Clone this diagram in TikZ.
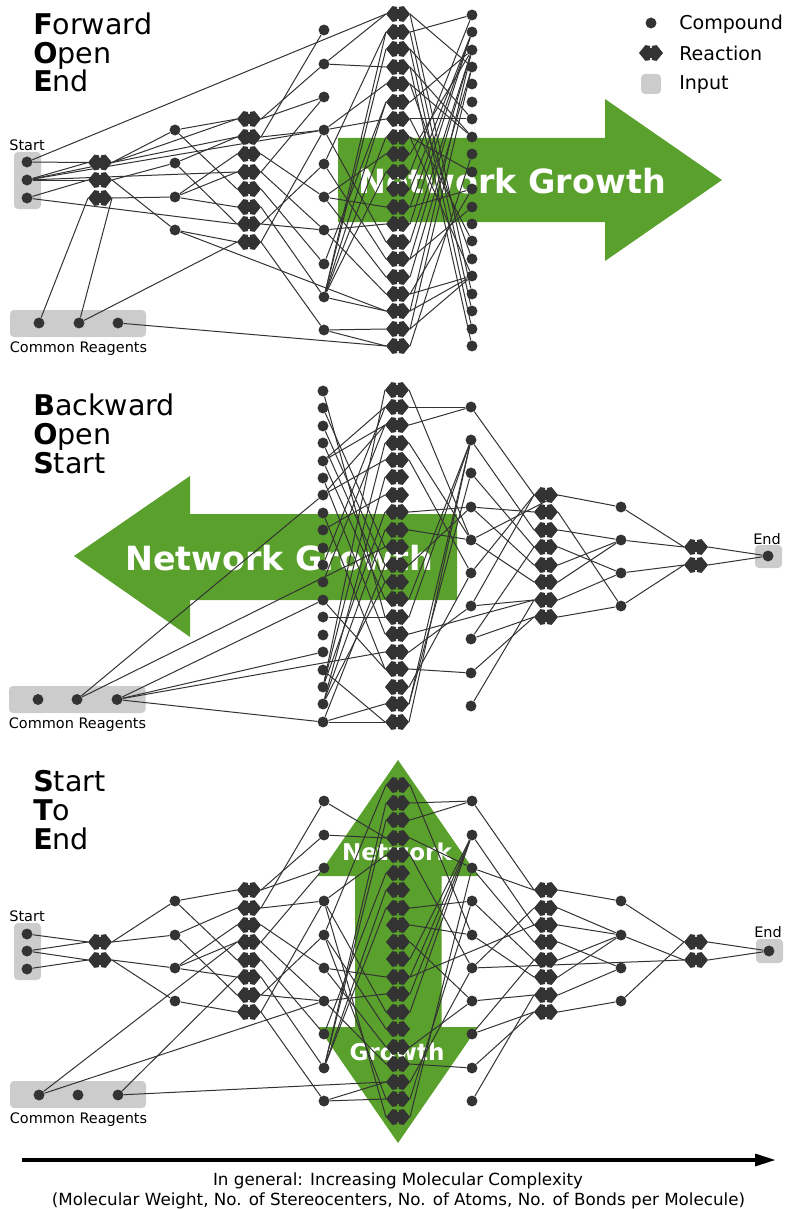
\documentclass[tikz,border=0pt]{standalone}
\usepackage{fontspec}
\setmainfont{DejaVu Sans}
\definecolor{ink}{HTML}{333333}
\definecolor{grow}{HTML}{5AA02C}
\definecolor{inbox}{HTML}{CCCCCC}
\pgfdeclarelayer{bg}
\pgfdeclarelayer{wires}
\pgfsetlayers{bg,wires,main}
\pgfdeclareshape{rxn}{
  \inheritsavedanchors[from=rectangle]
  \inheritanchorborder[from=rectangle]
  \inheritanchor[from=rectangle]{center}
  \inheritanchor[from=rectangle]{text}
  \inheritanchor[from=rectangle]{east}
  \inheritanchor[from=rectangle]{west}
  \inheritanchor[from=rectangle]{north}
  \inheritanchor[from=rectangle]{south}
  \backgroundpath{
    \pgfpathmoveto{\pgfqpoint{-9pt}{0pt}}
    \pgfpathlineto{\pgfqpoint{-4.2pt}{5.9pt}}
    \pgfpathlineto{\pgfqpoint{-0.6pt}{5.3pt}}
    \pgfpathlineto{\pgfqpoint{-0.6pt}{3.7pt}}
    \pgfpathlineto{\pgfqpoint{0.6pt}{3.7pt}}
    \pgfpathlineto{\pgfqpoint{0.6pt}{5.3pt}}
    \pgfpathlineto{\pgfqpoint{4.2pt}{5.9pt}}
    \pgfpathlineto{\pgfqpoint{9pt}{0pt}}
    \pgfpathlineto{\pgfqpoint{4.2pt}{-5.9pt}}
    \pgfpathlineto{\pgfqpoint{0.6pt}{-5.3pt}}
    \pgfpathlineto{\pgfqpoint{0.6pt}{-3.7pt}}
    \pgfpathlineto{\pgfqpoint{-0.6pt}{-3.7pt}}
    \pgfpathlineto{\pgfqpoint{-0.6pt}{-5.3pt}}
    \pgfpathlineto{\pgfqpoint{-4.2pt}{-5.9pt}}
    \pgfpathclose
  }
}
\tikzset{
  cpd/.style={circle,fill=ink,inner sep=0pt,minimum size=8.2pt},
  rea/.style={rxn,fill=ink,inner sep=0pt,minimum width=17.6pt,minimum height=11.8pt},
  wire/.style={draw=ink,line width=0.75pt},
  inputbox/.style={fill=inbox,rounded corners=3pt},
  growarrow/.style={fill=grow},
  growlabel/.style={text=white,font=\bfseries\fontsize{25}{25}\selectfont},
  growsmall/.style={text=white,font=\bfseries\fontsize{17.3}{17.3}\selectfont},
  titletxt/.style={anchor=base west,font=\fontsize{21.4}{21.4}\selectfont,inner sep=0pt},
  smalltxt/.style={font=\fontsize{10.85}{10.85}\selectfont,inner sep=0pt},
  legendtxt/.style={anchor=west,font=\fontsize{14.3}{14.3}\selectfont,inner sep=0pt},
  notetxt/.style={font=\fontsize{12.55}{12.55}\selectfont,inner sep=0pt},
}
\newcommand{\colC}[3]{\foreach \n/\y in {#3} \node[cpd] (#1\n) at (#2,\y) {};}
\newcommand{\colR}[3]{\foreach \n/\y in {#3} \node[rea] (#1\n) at (#2,\y) {};}
% compound -> reaction (west tip)
\newcommand{\wireIn}[2]{\foreach \f/\t in {#2} \draw[wire] (#1\f) -- (#1\t.west);}
% reaction (east tip) -> compound
\newcommand{\wireOut}[2]{\foreach \f/\t in {#2} \draw[wire] (#1\f.east) -- (#1\t);}
% anything else
\newcommand{\wireRaw}[2]{\foreach \f/\t in {#2} \draw[wire] (#1\f) -- (#1\t);}
\begin{document}
\begin{tikzpicture}[x=0.75pt,y=-0.75pt]
\useasboundingbox (0,0) rectangle (786,1209);
\begin{pgfonlayer}{bg}
% growth arrows
\fill[growarrow] (338,138)--(605,138)--(605,99)--(722,180)--(605,261)--(605,222)--(338,222)--cycle;
\fill[growarrow] (457,514)--(190,514)--(190,476)--(74,556)--(190,637)--(190,600)--(457,600)--cycle;
\fill[growarrow] (398,760)--(478,876)--(441.5,876)--(441.5,1027)--(478,1027)--(398,1143)--(318,1027)--(355,1027)--(355,876)--(318,876)--cycle;
\node[growlabel] (glA) at (512,181) {Network Growth};
\node[growlabel] (glB) at (279,558) {Network Growth};
\node[growsmall] (glC) at (397,852) {Network};
\node[growsmall] (glD) at (397,1052) {Growth};
% input boxes
\fill[inputbox] (14,152) rectangle (41,209);
\fill[inputbox] (10,310) rectangle (146,337);
\fill[inputbox] (9,686) rectangle (145.5,713);
\fill[inputbox] (755,545) rectangle (782,568);
\fill[inputbox] (14,923) rectangle (41,980);
\fill[inputbox] (10,1081) rectangle (146,1108);
\fill[inputbox] (756,939) rectangle (783,963);
\fill[inputbox] (641,74) rectangle (661,94);
\end{pgfonlayer}
% titles
\node[titletxt] (tA1) at (33,35) {\textbf{F}orward};
\node[titletxt] (tA2) at (33,63.5) {\textbf{O}pen};
\node[titletxt] (tA3) at (33,92) {\textbf{E}nd};
\node[titletxt] (tB1) at (33,415) {\textbf{B}ackward};
\node[titletxt] (tB2) at (33,444) {\textbf{O}pen};
\node[titletxt] (tB3) at (33,473) {\textbf{S}tart};
\node[titletxt] (tC1) at (33,791) {\textbf{S}tart};
\node[titletxt] (tC2) at (33,820) {\textbf{T}o};
\node[titletxt] (tC3) at (33,849) {\textbf{E}nd};
% small labels
\node[smalltxt] (lA1) at (27,145) {Start};
\node[smalltxt] (lA2) at (78.5,348.5) {Common Reagents};
\node[smalltxt] (lB1) at (767,539) {End};
\node[smalltxt] (lB2) at (77.5,724.5) {Common Reagents};
\node[smalltxt] (lC1) at (27,916) {Start};
\node[smalltxt] (lC2) at (78.5,1119.5) {Common Reagents};
\node[smalltxt] (lC3) at (768,932) {End};
% legend
\node[cpd] (legc) at (651,23) {};
\node[rea] (legr) at (651,53) {};
\node[legendtxt] (legt1) at (679,24) {Compound};
\node[legendtxt] (legt2) at (679,53) {Reaction};
\node[legendtxt] (legt3) at (679,85) {Input};
% bottom axis
\coordinate (axL) at (22,1160);
\coordinate (axM) at (757,1160);
\fill[black] (775,1160)--(755,1153.5)--(755,1166.5)--cycle;
\draw[black,line width=2.6pt] (axL) -- (axM);
\node[notetxt] (nt1) at (398,1181) {In general: Increasing Molecular Complexity};
\node[notetxt] (nt2) at (398.5,1201) {(Molecular Weight, No. of Stereocenters, No. of Atoms, No. of Bonds per Molecule)};
% ================= PANEL A: Forward Open End
\colC{As}{27}{1/162,2/180,3/198}
\colC{Am}{39}{1/323}\colC{Am}{79}{2/323}\colC{Am}{118}{3/323}
\colR{Ar1}{100}{a/162.5,b/180,c/198}
\colC{Ac2}{175}{a/130,b/163,c/197,d/230}
\colR{Ar2}{249}{a/119,b/137,c/154,d/172,e/189,f/207,g/224,h/242}
\colC{Ac3}{324}{a/30,b/64,c/97,d/130,e/164,f/197,g/230,h/264,i/297,j/330}
\colR{Ar3}{398}{a/14,b/32,c/49,d/67,e/84,f/102,g/119,h/137,i/154,j/172,k/189,l/207,m/224,n/242,o/259,p/277,q/294,r/311,s/329,t/346}
\colC{Ac4}{472}{a/15,b/32,c/50,d/67,e/84,f/102,g/119,h/137,i/154,j/172,k/189,l/207,m/224,n/241,o/259,p/276,q/294,r/311,s/329,t/346}
\begin{pgfonlayer}{wires}
\wireIn{A}{s1/r1a,s2/r1a,s2/r1b,s3/r1b,s1/r3a,s2/r2b,s2/r2d,s3/r2g,m1/r1c,m2/r2h,m3/r3t}
\wireRaw{A}{s2/c3d,m2/r1c.east}
\wireOut{A}{r1a/c2a,r1b/c2b,r1b/c2d,r1c/c2c}
\wireRaw{A}{r1a.east/r2a.west}
\wireIn{A}{c2a/r2a,c2a/r2e,c2b/r2b,c2b/r2g,c2c/r2c,c2c/r2d,c2c/r2f,c2d/r2h,c2d/r3r}
\wireOut{A}{r2a/c3b,r2a/c3c,r2b/c3a,r2b/c3d,r2c/c3f,r2d/c3c,r2d/c3g,r2e/c3h,r2f/c3i,r2g/c3e,r2g/c3g,r2h/c3d,r2h/c3j}
\wireIn{A}{c3b/r3a,c3b/r3d,c3d/r3e,c3d/r3g,c3d/r3n,c3e/r3b,c3e/r3o,c3f/r3i,c3f/r3l,c3f/r3p,c3g/r3m,c3g/r3q,c3h/r3f,c3i/r3b,c3i/r3c,c3i/r3f,c3i/r3h,c3i/r3j,c3i/r3r,c3j/r3s,c3j/r3t}
\wireOut{A}{r3a/c4d,r3a/c4q,r3b/c4a,r3b/c4r,r3c/c4g,r3c/c4s,r3d/c4h,r3d/c4t,r3e/c4h,r3e/c4o,r3f/c4c,r3g/c4g,r3g/c4n,r3h/c4j,r3h/c4p,r3i/c4c,r3j/c4a,r3k/c4b,r3l/c4b,r3l/c4k,r3m/c4b,r3n/c4c,r3o/c4c,r3o/c4l,r3p/c4d,r3q/c4p,r3q/c4k,r3r/c4p,r3r/c4c,r3s/c4p,r3s/c4d,r3t/c4i}
\end{pgfonlayer}
% ================= PANEL B: Backward Open Start
\colC{Bm}{38}{1/699.5}\colC{Bm}{77}{2/699.5}\colC{Bm}{117}{3/699.5}
\colC{Bc3}{323}{a/391,b/408,c/426,d/443,e/461,f/478,g/495,h/513,i/530,j/548,k/565,l/582,m/600,n/617,o/635,p/652,q/670,r/687,s/704,t/722}
\colR{Br3}{397}{a/390,b/407,c/425,d/443,e/460,f/477,g/495,h/512,i/530,j/547,k/565,l/582,m/599,n/617,o/634,p/652,q/669,r/687,s/704,t/722}
\colC{Bc4}{471}{a/407,b/440,c/473,d/507,e/540,f/573,g/606,h/639,i/673,j/706}
\colR{Br4}{546}{a/495,b/512,c/530,d/547,e/565,f/582,g/600,h/617}
\colC{Bc5}{621}{a/507,b/540,c/573,d/606}
\colR{Br5}{696}{a/547,b/565}
\node[cpd] (Bend) at (768,556) {};
\begin{pgfonlayer}{wires}
\wireRaw{B}{m2/c3g,m3/c3m,m3/c3p,m3/c3t}
\wireIn{B}{m2/r3j,m3/r3p}
\wireIn{B}{c3a/r3n,c3b/r3j,c3c/r3k,c3d/r3l,c3e/r3b,c3e/r3c,c3e/r3m,c3f/r3o,c3g/r3c,c3g/r3e,c3h/r3q,c3i/r3g,c3m/r3q,c3n/r3n,c3q/r3t,c3t/r3t,c3t/r3s,c3r/r3a,c3r/r3d,c3s/r3f,c3r/r3h,c3s/r3i,c3k/r3b,c3l/r3c,c3t/r3k,c3s/r3l}
\wireOut{B}{r3a/c4e,r3b/c4a,r3c/c4a,r3d/c4e,r3e/c4f,r3h/c4d,r3i/c4e,r3k/c4d,r3m/c4b,r3n/c4b,r3p/c4g,r3q/c4i,r3r/c4f,r3s/c4c,r3t/c4b,r3s/c4b}
\wireRaw{B}{r3o.east/r4g.west}
\wireIn{B}{c4a/r4a,c4b/r4c,c4c/r4d,c4d/r4e,c4d/r4b,c4e/r4f,c4f/r4a,c4g/r4g,c4g/r4a,c4h/r4d,c4h/r4h,c4i/r4h,c4j/r4g}
\wireRaw{B}{c4e/r4a.east}
\wireOut{B}{r4a/c5a,r4b/c5d,r4c/c5b,r4d/c5c,r4e/c5b,r4f/c5b,r4g/c5c,r4h/c5d}
\wireIn{B}{c5a/r5a,c5b/r5a,c5c/r5b,c5d/r5b}
\wireOut{B}{r5a/end,r5b/end}
\end{pgfonlayer}
% ================= PANEL C: Start To End
\colC{Cs}{27}{1/934,2/951,3/969}
\colC{Cm}{39}{1/1095}\colC{Cm}{78}{2/1095}\colC{Cm}{118}{3/1095}
\colR{Cr1}{100}{a/942,b/960}
\colC{Cc2}{175}{a/901,b/935,c/968,d/1001}
\colR{Cr2}{249}{a/890,b/908,c/925,d/942,e/960,f/977,g/995,h/1012}
\colC{Cc3}{324}{a/801,b/835,c/868,d/901,e/935,f/968,g/1001,h/1034,i/1068,j/1101}
\colR{Cr3}{398}{a/785,b/803,c/820,d/838,e/855,f/873,g/890,h/908,i/925,j/942,k/959,l/977,m/994,n/1012,o/1029,p/1047,q/1064,r/1082,s/1099,t/1117}
\colC{Cc4}{472}{a/801,b/835,c/868,d/901,e/935,f/968,g/1001,h/1034,i/1068,j/1101}
\colR{Cr4}{546}{a/890,b/908,c/925,d/942,e/960,f/977,g/995,h/1012}
\colC{Cc5}{621}{a/901,b/935,c/968,d/1001}
\colR{Cr5}{696}{a/942,b/960}
\node[cpd] (Cend) at (769,951) {};
\begin{pgfonlayer}{wires}
\wireIn{C}{s1/r1a,s2/r1a,s2/r1b,s3/r1b,m1/r2d,m3/r2f,m3/r3r}
\wireRaw{C}{m1/c3g}
\wireOut{C}{r1a/c2a,r1a/c2b,r1b/c2c,r1b/c2d}
\wireIn{C}{c2a/r2a,c2a/r2e,c2b/r2b,c2b/r2g,c2c/r2c,c2c/r2d,c2c/r2f,c2d/r2h}
\wireOut{C}{r2a/c3b,r2a/c3c,r2b/c3a,r2b/c3d,r2c/c3f,r2d/c3c,r2d/c3g,r2e/c3h,r2f/c3i,r2g/c3e,r2g/c3g,r2h/c3d,r2h/c3j}
\wireIn{C}{c3a/r3d,c3b/r3d,c3d/r3e,c3d/r3n,c3e/r3a,c3e/r3o,c3f/r3l,c3f/r3p,c3g/r3m,c3g/r3q,c3h/r3f,c3i/r3b,c3i/r3c,c3i/r3g,c3i/r3h,c3j/r3r,c3j/r3s,c3d/r3t,c3e/r3s}
\wireOut{C}{r3a/c4e,r3b/c4a,r3c/c4a,r3d/c4c,r3e/c4f,r3h/c4d,r3i/c4e,r3j/c4g,r3k/c4b,r3l/c4b,r3m/c4b,r3n/c4b,r3p/c4g,r3q/c4i,r3r/c4f,r3s/c4d,r3t/c4c}
\wireRaw{C}{r3l.east/r4c.west}
\wireIn{C}{c4a/r4a,c4b/r4c,c4c/r4a,c4c/r4d,c4d/r4e,c4e/r4f,c4f/r4b,c4g/r4g,c4h/r4e,c4h/r4h,c4i/r4h,c4j/r4g}
\wireOut{C}{r4a/c5a,r4b/c5b,r4c/c5b,r4d/c5c,r4e/c5b,r4f/c5b,r4g/c5c,r4h/c5d}
\wireIn{C}{c5a/r5a,c5b/r5b,c5d/r5a,c4f/r5b}
\wireOut{C}{r5a/end,r5b/end}
\end{pgfonlayer}
\end{tikzpicture}
\end{document}
